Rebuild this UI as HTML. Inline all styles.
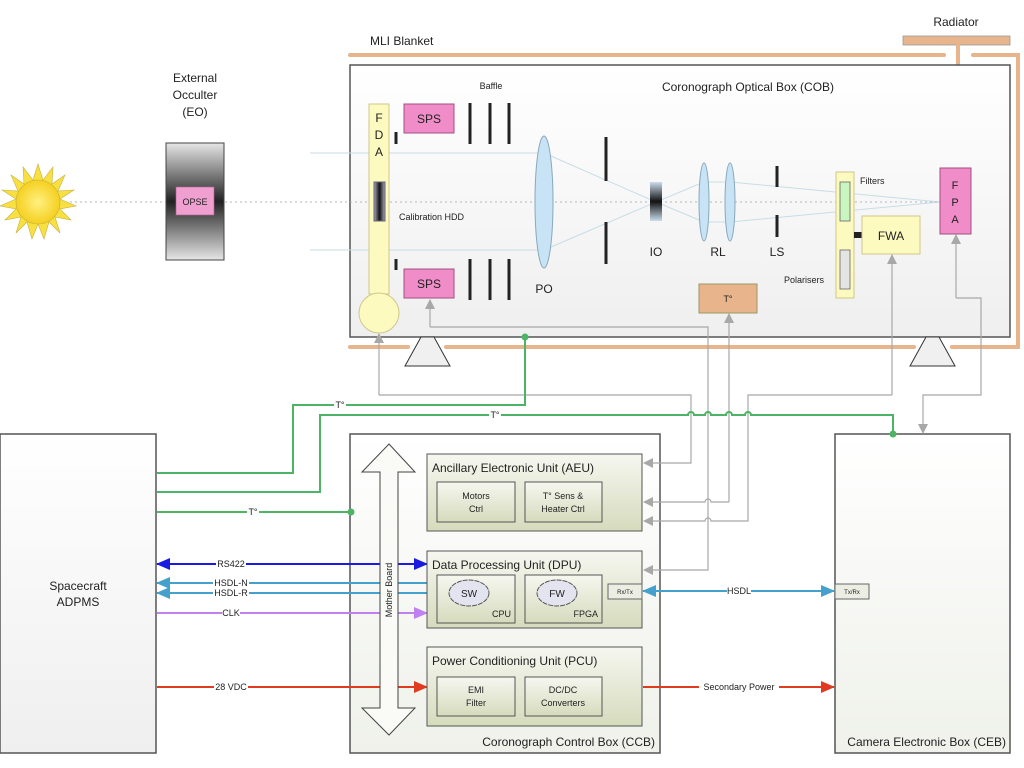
<!DOCTYPE html>
<html><head><meta charset="utf-8"><style>html,body{margin:0;padding:0;background:#fff}svg{display:block}text{font-family:"Liberation Sans",sans-serif;fill:#222}</style></head><body>
<svg width="1024" height="768" viewBox="0 0 1024 768" xmlns="http://www.w3.org/2000/svg">
<defs>
<linearGradient id="bx" x1="0" y1="0" x2="0" y2="1"><stop offset="0" stop-color="#ffffff"/><stop offset="1" stop-color="#eff1ea"/></linearGradient>
<linearGradient id="cob" x1="0" y1="0" x2="0" y2="1"><stop offset="0" stop-color="#ffffff"/><stop offset="1" stop-color="#efefef"/></linearGradient>
<linearGradient id="unit" x1="0" y1="0" x2="0" y2="1"><stop offset="0" stop-color="#f6f7f0"/><stop offset="1" stop-color="#d6dbbd"/></linearGradient>
<linearGradient id="eo" x1="0" y1="0" x2="0" y2="1"><stop offset="0" stop-color="#e6e6e6"/><stop offset="0.5" stop-color="#222"/><stop offset="1" stop-color="#e6e6e6"/></linearGradient>
<linearGradient id="io" x1="0" y1="0" x2="0" y2="1"><stop offset="0" stop-color="#cde"/><stop offset="0.5" stop-color="#111"/><stop offset="1" stop-color="#cde"/></linearGradient>
<linearGradient id="hdd" x1="0" y1="0" x2="1" y2="0"><stop offset="0" stop-color="#aab"/><stop offset="0.5" stop-color="#111"/><stop offset="1" stop-color="#aab"/></linearGradient>
<radialGradient id="sun"><stop offset="0" stop-color="#fff080"/><stop offset="1" stop-color="#f5d020"/></radialGradient>
<marker id="ag" markerWidth="10" markerHeight="10" refX="9" refY="5" orient="auto" markerUnits="userSpaceOnUse"><path d="M0,0L10,5L0,10z" fill="#a8a8a8"/></marker>
<marker id="ab" markerWidth="14" markerHeight="12" refX="13" refY="6" orient="auto-start-reverse" markerUnits="userSpaceOnUse"><path d="M0,0L14,6L0,12z" fill="#1a1ae0"/></marker>
<marker id="ac" markerWidth="14" markerHeight="12" refX="13" refY="6" orient="auto-start-reverse" markerUnits="userSpaceOnUse"><path d="M0,0L14,6L0,12z" fill="#44a0cc"/></marker>
<marker id="ap" markerWidth="14" markerHeight="12" refX="13" refY="6" orient="auto" markerUnits="userSpaceOnUse"><path d="M0,0L14,6L0,12z" fill="#c080f0"/></marker>
<marker id="ar" markerWidth="14" markerHeight="12" refX="13" refY="6" orient="auto" markerUnits="userSpaceOnUse"><path d="M0,0L14,6L0,12z" fill="#e03a20"/></marker>
</defs>

<!-- MLI blanket -->
<text x="370" y="45" font-size="12">MLI Blanket</text>
<text x="956" y="26" font-size="12" text-anchor="middle">Radiator</text>
<rect x="903" y="36" width="107" height="9" fill="#e8b48c" stroke="#999" stroke-width="0.8"/>
<g stroke="#e8b48c" stroke-width="4" fill="none" stroke-linecap="round">
<line x1="350" y1="55" x2="944" y2="55"/>
<path d="M973,55 L1018,55 L1018,347 L952,347"/>
<line x1="958" y1="45" x2="958" y2="168"/>
<line x1="446" y1="347" x2="914" y2="347"/>
<line x1="350" y1="347" x2="408" y2="347"/>
</g>

<!-- COB -->
<rect x="350" y="65" width="660" height="272" fill="url(#cob)" stroke="#555" stroke-width="1.5"/>
<text x="748" y="91" font-size="12" text-anchor="middle">Coronograph Optical Box (COB)</text>
<text x="491" y="89" font-size="9" text-anchor="middle">Baffle</text>

<g stroke="#c8dde6" stroke-width="1" fill="none">
<line x1="310" y1="153" x2="544" y2="153"/>
<line x1="310" y1="250" x2="544" y2="250"/>
<line x1="544" y1="153" x2="656" y2="202"/>
<line x1="544" y1="250" x2="656" y2="202"/>
<line x1="656" y1="202" x2="704" y2="182"/>
<line x1="656" y1="202" x2="704" y2="222"/>
<line x1="704" y1="182" x2="730" y2="182"/>
<line x1="704" y1="222" x2="730" y2="222"/>
<line x1="730" y1="182" x2="940" y2="202"/>
<line x1="730" y1="222" x2="940" y2="202"/>
</g>
<line x1="60" y1="202" x2="940" y2="202" stroke="#b0b8bc" stroke-width="1" stroke-dasharray="2,3"/>

<g transform="translate(38,202)">
<polygon fill="#f7e040" stroke="#c8b040" stroke-width="0.6" points="0,-38 5,-22 15,-35 14,-18 27,-27 20,-11 36,-12 22,-3 38,4 22,7 33,18 17,15 22,31 11,20 6,37 0,22 -6,37 -11,20 -22,31 -17,15 -33,18 -22,7 -38,4 -22,-3 -36,-12 -20,-11 -27,-27 -14,-18 -15,-35 -5,-22"/>
<circle r="22" fill="url(#sun)" stroke="#c8b040" stroke-width="0.6"/>
</g>
<text x="195" y="82" font-size="12" text-anchor="middle">External</text>
<text x="195" y="99" font-size="12" text-anchor="middle">Occulter</text>
<text x="195" y="116" font-size="12" text-anchor="middle">(EO)</text>
<rect x="166" y="143" width="58" height="117" fill="url(#eo)" stroke="#444"/>
<rect x="176" y="187" width="38" height="28" fill="#f0a0d0" stroke="#b06090" stroke-width="0.6"/>
<text x="195" y="205" font-size="9" text-anchor="middle">OPSE</text>

<rect x="369" y="104" width="20" height="190" fill="#fdfac0" stroke="#cfc78a"/>
<circle cx="379" cy="313" r="20" fill="#fdfac0" stroke="#cfc78a"/>
<text x="379" y="122" font-size="12" text-anchor="middle">F</text>
<text x="379" y="139" font-size="12" text-anchor="middle">D</text>
<text x="379" y="156" font-size="12" text-anchor="middle">A</text>
<rect x="374" y="182" width="11" height="39" fill="url(#hdd)" stroke="#667"/>
<text x="399" y="220" font-size="9">Calibration HDD</text>

<rect x="404" y="104" width="50" height="29" fill="#f08cc8" stroke="#a05080"/>
<text x="429" y="123" font-size="12" text-anchor="middle">SPS</text>
<rect x="404" y="269" width="50" height="29" fill="#f08cc8" stroke="#a05080"/>
<text x="429" y="288" font-size="12" text-anchor="middle">SPS</text>
<g stroke="#222" stroke-width="3">
<line x1="396" y1="132" x2="396" y2="144"/><line x1="396" y1="259" x2="396" y2="270"/>
<line x1="470" y1="103" x2="470" y2="144"/><line x1="490" y1="103" x2="490" y2="144"/><line x1="509" y1="103" x2="509" y2="144"/>
<line x1="470" y1="259" x2="470" y2="300"/><line x1="490" y1="259" x2="490" y2="300"/><line x1="509" y1="259" x2="509" y2="300"/>
<line x1="606" y1="137" x2="606" y2="181"/><line x1="606" y1="222" x2="606" y2="264"/>
<line x1="777" y1="166" x2="777" y2="187"/><line x1="777" y1="215" x2="777" y2="237"/>
</g>
<ellipse cx="544" cy="202" rx="9" ry="66" fill="#c8e2f6" stroke="#8ab"/>
<text x="544" y="293" font-size="12" text-anchor="middle">PO</text>
<rect x="650" y="182" width="12" height="39" fill="url(#io)"/>
<text x="656" y="256" font-size="12" text-anchor="middle">IO</text>
<ellipse cx="704" cy="202" rx="5" ry="39" fill="#c8e2f6" stroke="#8ab"/>
<ellipse cx="730" cy="202" rx="5" ry="39" fill="#c8e2f6" stroke="#8ab"/>
<text x="718" y="256" font-size="12" text-anchor="middle">RL</text>
<text x="777" y="256" font-size="12" text-anchor="middle">LS</text>

<rect x="836" y="172" width="18" height="126" fill="#fdfac0" stroke="#cfc78a"/>
<rect x="840" y="182" width="10" height="39" fill="#c8f5c0" stroke="#666" stroke-width="0.8"/>
<rect x="840" y="250" width="10" height="39" fill="#e4e4e4" stroke="#666" stroke-width="0.8"/>
<text x="860" y="184" font-size="9">Filters</text>
<text x="784" y="283" font-size="9">Polarisers</text>
<rect x="854" y="232" width="8" height="6" fill="#222"/>
<rect x="862" y="216" width="58" height="38" fill="#fdfac0" stroke="#cfc78a"/>
<text x="891" y="240" font-size="12" text-anchor="middle">FWA</text>
<rect x="940" y="168" width="31" height="66" fill="#f08cc8" stroke="#a05080"/>
<text x="955" y="189" font-size="11" text-anchor="middle">F</text>
<text x="955" y="206" font-size="11" text-anchor="middle">P</text>
<text x="955" y="223" font-size="11" text-anchor="middle">A</text>
<rect x="699" y="284" width="58" height="29" fill="#e8b48c" stroke="#996"/>
<text x="728" y="302" font-size="9" text-anchor="middle">T°</text>

<polygon points="405,366 450,366 434,337 421,337" fill="#f0f0f0" stroke="#333"/>
<polygon points="910,366 955,366 939,337 926,337" fill="#f0f0f0" stroke="#333"/>

<!-- ADPMS -->
<rect x="0" y="434" width="156" height="319" fill="url(#cob)" stroke="#555" stroke-width="1.5"/>
<text x="78" y="590" font-size="12" text-anchor="middle">Spacecraft</text>
<text x="78" y="606" font-size="12" text-anchor="middle">ADPMS</text>

<!-- CCB -->
<rect x="350" y="434" width="310" height="319" fill="url(#bx)" stroke="#555" stroke-width="1.5"/>
<text x="655" y="746" font-size="12" text-anchor="end">Coronograph Control Box (CCB)</text>
<!-- CEB -->
<rect x="835" y="434" width="175" height="319" fill="url(#bx)" stroke="#555" stroke-width="1.5"/>
<text x="1006" y="746" font-size="12" text-anchor="end">Camera Electronic Box (CEB)</text>
<rect x="835" y="584" width="34" height="15" fill="#eceee4" stroke="#666"/>
<text x="852" y="594" font-size="6" text-anchor="middle">Tx/Rx</text>

<!-- gray connectors -->
<g stroke="#a8a8a8" stroke-width="1.2" fill="none">
<path d="M379,395 L379,334" marker-end="url(#ag)"/>
<path d="M379,395 L691,395 L691,463 L644,463" marker-end="url(#ag)"/>
<path d="M430,327 L430,300" marker-end="url(#ag)"/>
<path d="M430,327 L708,327 L708,570 L644,570" marker-end="url(#ag)"/>
<path d="M729,502 L729,314" marker-end="url(#ag)"/>
<path d="M729,502 L711,502 a3,3 0 0 0 -6,0 L644,502" marker-end="url(#ag)"/>
<path d="M892,395 L892,255" marker-end="url(#ag)"/>
<path d="M892,395 L748,395 L748,521 L711,521 a3,3 0 0 0 -6,0 L644,521" marker-end="url(#ag)"/>
<path d="M956,298 L956,235" marker-end="url(#ag)"/>
<path d="M956,298 L981,298 L981,395 L923,395 L923,433" marker-end="url(#ag)"/>
</g>

<!-- green -->
<g stroke="#4cb464" stroke-width="2" fill="none">
<path d="M525,337 L525,405 L293,405 L293,473 L157,473"/>
<path d="M893,434 L893,415 L751,415 a3,3 0 0 0 -6,0 L732,415 a3,3 0 0 0 -6,0 L711,415 a3,3 0 0 0 -6,0 L694,415 a3,3 0 0 0 -6,0 L320,415 L320,492 L157,492"/>
<path d="M157,512 L351,512"/>
</g>
<circle cx="525" cy="337" r="3.5" fill="#4cb464"/>
<circle cx="893" cy="434" r="3.5" fill="#4cb464"/>
<circle cx="351" cy="512" r="3.5" fill="#4cb464"/>
<g font-size="9" text-anchor="middle">
<rect x="334" y="399" width="12" height="11" fill="#fff"/><text x="340" y="408">T°</text>
<rect x="489" y="409" width="12" height="11" fill="#fff"/><text x="495" y="418">T°</text>
<rect x="247" y="506" width="12" height="11" fill="#fff"/><text x="253" y="515">T°</text>
</g>

<!-- signal lines -->
<g stroke-width="2" fill="none">
<line x1="427" y1="564" x2="157" y2="564" stroke="#1a1ae0" marker-start="url(#ab)" marker-end="url(#ab)"/>
<line x1="427" y1="583" x2="157" y2="583" stroke="#44a0cc" marker-end="url(#ac)"/>
<line x1="427" y1="593" x2="157" y2="593" stroke="#44a0cc" marker-end="url(#ac)"/>
<line x1="157" y1="613" x2="427" y2="613" stroke="#c080f0" marker-end="url(#ap)"/>
<line x1="157" y1="687" x2="427" y2="687" stroke="#e03a20" marker-end="url(#ar)"/>
<line x1="643" y1="591" x2="834" y2="591" stroke="#44a0cc" marker-start="url(#ac)" marker-end="url(#ac)"/>
<line x1="643" y1="687" x2="834" y2="687" stroke="#e03a20" marker-end="url(#ar)"/>
</g>
<g font-size="9" text-anchor="middle">
<rect x="216" y="559" width="30" height="10" fill="#fff"/><text x="231" y="567">RS422</text>
<rect x="213" y="578" width="36" height="9" fill="#fff"/><text x="231" y="586">HSDL-N</text>
<rect x="213" y="588" width="36" height="9" fill="#fff"/><text x="231" y="596">HSDL-R</text>
<rect x="222" y="608" width="18" height="10" fill="#fff"/><text x="231" y="616">CLK</text>
<rect x="214" y="682" width="34" height="10" fill="#fff"/><text x="231" y="690">28 VDC</text>
<rect x="727" y="586" width="24" height="10" fill="#fff"/><text x="739" y="594">HSDL</text>
<rect x="699" y="682" width="80" height="10" fill="#fff"/><text x="739" y="690">Secondary Power</text>
</g>

<polygon points="389,444 415,472 398,472 398,708 415,708 389,735 362,708 380,708 380,472 362,472" fill="#fafaf6" stroke="#444"/>
<text transform="translate(392,590) rotate(-90)" font-size="9" text-anchor="middle">Mother Board</text>

<rect x="427" y="454" width="215" height="77" fill="url(#unit)" stroke="#555"/>
<text x="432" y="472" font-size="12">Ancillary Electronic Unit (AEU)</text>
<rect x="437" y="482" width="78" height="40" fill="url(#unit)" stroke="#555"/>
<text x="476" y="499" font-size="9" text-anchor="middle">Motors</text>
<text x="476" y="512" font-size="9" text-anchor="middle">Ctrl</text>
<rect x="525" y="482" width="77" height="40" fill="url(#unit)" stroke="#555"/>
<text x="563" y="499" font-size="9" text-anchor="middle">T° Sens &amp;</text>
<text x="563" y="512" font-size="9" text-anchor="middle">Heater Ctrl</text>

<rect x="427" y="551" width="215" height="77" fill="url(#unit)" stroke="#555"/>
<text x="432" y="569" font-size="12">Data Processing Unit (DPU)</text>
<rect x="437" y="575" width="78" height="48" fill="url(#unit)" stroke="#555"/>
<rect x="525" y="575" width="77" height="48" fill="url(#unit)" stroke="#555"/>
<ellipse cx="469" cy="593" rx="20" ry="13" fill="#e4e4f0" stroke="#555" stroke-dasharray="5,1"/>
<text x="469" y="597" font-size="10" text-anchor="middle">SW</text>
<text x="511" y="617" font-size="9" text-anchor="end">CPU</text>
<ellipse cx="557" cy="593" rx="20" ry="13" fill="#e4e4f0" stroke="#555" stroke-dasharray="5,1"/>
<text x="557" y="597" font-size="10" text-anchor="middle">FW</text>
<text x="598" y="617" font-size="9" text-anchor="end">FPGA</text>
<rect x="608" y="584" width="34" height="15" fill="#eceee4" stroke="#666"/>
<text x="625" y="594" font-size="6" text-anchor="middle">Rx/Tx</text>

<rect x="427" y="647" width="215" height="79" fill="url(#unit)" stroke="#555"/>
<text x="432" y="665" font-size="12">Power Conditioning Unit (PCU)</text>
<rect x="437" y="677" width="78" height="39" fill="url(#unit)" stroke="#555"/>
<text x="476" y="693" font-size="9" text-anchor="middle">EMI</text>
<text x="476" y="706" font-size="9" text-anchor="middle">Filter</text>
<rect x="525" y="677" width="77" height="39" fill="url(#unit)" stroke="#555"/>
<text x="563" y="693" font-size="9" text-anchor="middle">DC/DC</text>
<text x="563" y="706" font-size="9" text-anchor="middle">Converters</text>
</svg>
</body></html>
